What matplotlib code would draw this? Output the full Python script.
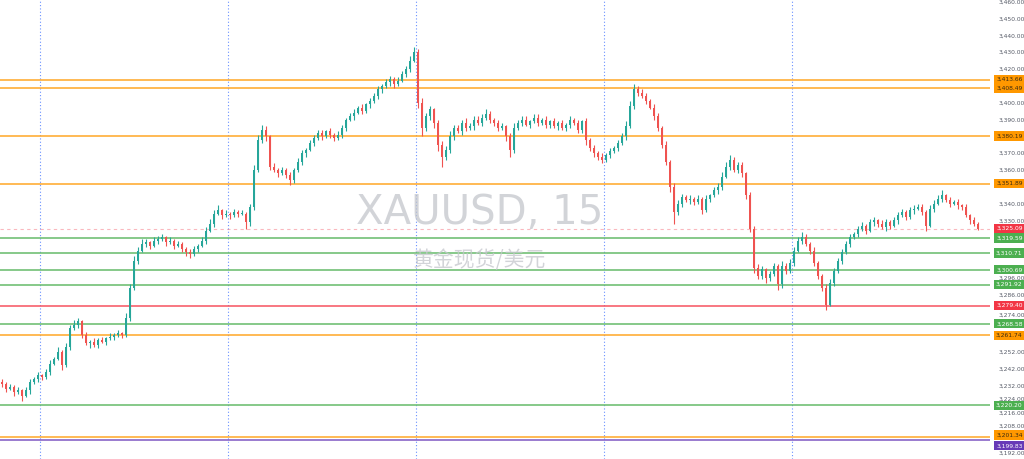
import matplotlib
matplotlib.use("Agg")
from matplotlib import pyplot as plt
from matplotlib.transforms import blended_transform_factory

# 15 minute candles, open = previous close
closes = [
    3233, 3230, 3231, 3228, 3229, 3226, 3229, 3234, 3236, 3238,
    3237, 3240, 3245, 3248, 3252, 3244, 3255, 3266, 3268, 3270,
    3262, 3257, 3258, 3256, 3259, 3258, 3260, 3261, 3262, 3263,
    3262, 3272, 3290, 3306, 3312, 3316, 3317, 3315, 3318, 3319,
    3320, 3317, 3318, 3315, 3316, 3313, 3311, 3310, 3313, 3315,
    3318, 3324, 3328, 3334, 3336, 3333, 3334, 3333, 3335, 3334,
    3334, 3329, 3338, 3360, 3378, 3384, 3380, 3362, 3360, 3358,
    3360, 3357, 3354, 3360, 3365, 3370, 3372, 3376, 3379, 3382,
    3380, 3383, 3381, 3379, 3381, 3385, 3390, 3392, 3394, 3397,
    3395, 3399, 3401, 3404, 3408, 3410, 3412, 3414, 3411, 3413,
    3417, 3420, 3425, 3430, 3400, 3385, 3392, 3396, 3388, 3375,
    3368, 3372, 3380, 3385, 3383, 3388, 3385, 3386, 3390, 3388,
    3391, 3393, 3390, 3388, 3385, 3386, 3380, 3372, 3385, 3388,
    3390, 3387, 3389, 3391, 3388, 3390, 3387, 3389, 3386, 3388,
    3385, 3387, 3390, 3388, 3384, 3389, 3378, 3373, 3370, 3368,
    3366, 3369, 3371, 3373, 3376, 3380, 3386, 3398, 3408, 3406,
    3404, 3401, 3397, 3392, 3385, 3375, 3365, 3350, 3335, 3340,
    3344, 3342, 3343, 3341, 3343, 3336, 3343, 3345, 3348, 3350,
    3356, 3362, 3366, 3360, 3363, 3358, 3345, 3325, 3302, 3297,
    3301, 3296, 3298, 3303, 3292, 3303, 3300, 3305, 3312, 3318,
    3320, 3316, 3312, 3305, 3297, 3290, 3280, 3293, 3300, 3306,
    3311, 3316, 3320, 3322, 3325, 3327, 3324, 3329, 3330, 3328,
    3326, 3329, 3327, 3330, 3333, 3335, 3332, 3336, 3337, 3338,
    3335, 3327, 3337, 3340, 3343, 3345, 3342, 3340, 3341, 3339,
    3338, 3333, 3330, 3328, 3325.09,
]
first_open = 3234

wick_hi = [
    2, 1, 2, 1, 2, 1, 2, 2, 1, 2,
    1, 2, 2, 1, 3, 1, 2, 2, 3, 2,
    1, 2, 1, 2, 1, 2, 1, 2, 1, 2,
    1, 3, 2, 3, 2, 3, 2, 1, 2, 2,
    2, 1, 2, 1, 2, 1, 1, 2, 2, 1,
    2, 2, 3, 2, 3, 1, 2, 1, 2, 1,
    2, 1, 2, 3, 3, 3, 2, 1, 2, 1,
    2, 1, 2, 1, 2, 2, 1, 2, 2, 2,
    2, 1, 2, 1, 2, 2, 1, 2, 2, 1,
    2, 1, 2, 2, 2, 1, 2, 2, 1, 2,
    2, 2, 3, 3, 2, 3, 2, 2, 1, 2,
    2, 2, 3, 2, 2, 2, 3, 2, 2, 2,
    2, 3, 2, 1, 2, 2, 1, 2, 3, 2,
    2, 2, 1, 2, 2, 1, 2, 1, 2, 1,
    2, 1, 2, 1, 2, 1, 2, 1, 2, 1,
    2, 1, 2, 1, 2, 2, 3, 3, 3, 2,
    2, 2, 1, 2, 2, 1, 2, 1, 2, 2,
    2, 1, 2, 1, 2, 1, 2, 1, 2, 2,
    3, 3, 3, 2, 2, 2, 1, 2, 2, 2,
    2, 1, 2, 2, 1, 3, 2, 2, 2, 2,
    3, 2, 1, 2, 1, 1, 2, 2, 2, 2,
    2, 2, 2, 1, 2, 2, 1, 2, 2, 1,
    2, 2, 1, 2, 2, 2, 1, 2, 2, 2,
    2, 1, 2, 2, 2, 3, 1, 2, 1, 2,
    1, 2, 1, 2, 1,
]
wick_lo = [
    2, 2, 1, 2, 1, 3, 1, 2, 1, 2,
    2, 1, 2, 1, 1, 3, 1, 2, 1, 2,
    2, 1, 3, 1, 2, 1, 2, 1, 2, 1,
    2, 1, 2, 1, 2, 1, 2, 2, 1, 2,
    1, 2, 1, 2, 1, 2, 2, 2, 1, 2,
    1, 2, 1, 2, 1, 2, 1, 2, 1, 2,
    1, 4, 2, 2, 1, 2, 3, 2, 1, 2,
    1, 2, 3, 2, 1, 2, 2, 1, 2, 1,
    2, 1, 2, 2, 1, 2, 2, 1, 2, 1,
    2, 1, 2, 1, 2, 2, 1, 2, 2, 1,
    1, 2, 2, 1, 3, 5, 2, 2, 3, 4,
    6, 2, 2, 2, 1, 2, 2, 1, 2, 1,
    2, 1, 2, 2, 2, 1, 3, 4, 2, 1,
    2, 1, 2, 1, 2, 1, 2, 2, 1, 2,
    1, 2, 2, 1, 2, 2, 3, 2, 2, 2,
    2, 1, 2, 1, 2, 1, 2, 1, 2, 2,
    1, 2, 1, 2, 2, 2, 2, 3, 7, 2,
    2, 1, 2, 2, 1, 2, 1, 2, 1, 2,
    2, 1, 2, 1, 2, 2, 2, 2, 3, 2,
    2, 3, 2, 1, 3, 2, 2, 1, 2, 1,
    2, 1, 2, 2, 2, 2, 3, 1, 2, 1,
    2, 1, 2, 1, 2, 1, 2, 1, 2, 2,
    1, 2, 2, 1, 2, 1, 2, 1, 2, 1,
    2, 3, 1, 2, 1, 2, 1, 2, 1, 2,
    2, 1, 2, 1, 1,
]

# horizontal levels: price, kind
levels = [3413.66, 3408.49, 3380.19, 3351.89, 3319.59, 3310.71, 3300.69,
          3291.92, 3279.40, 3268.58, 3261.74, 3220.20, 3201.34, 3199.83]
level_kinds = ["o", "o", "o", "o", "g", "g", "g",
               "g", "r", "g", "o", "g", "o", "p"]
last_price = 3325.09

axis_ticks = [3460, 3450, 3440, 3430, 3420, 3400, 3390, 3370, 3360, 3340,
              3330, 3296, 3286, 3274, 3252, 3242, 3232, 3224, 3216, 3208, 3192]
session_breaks = [9.5, 56.5, 103.5, 150.5, 197.5]

line_col = {"o": "#ffa726", "g": "#66bb6a", "r": "#f7525f", "p": "#7e57c2"}
box_col = {"o": "#ff9800", "g": "#4caf50", "r": "#f23645", "p": "#673ab7"}
txt_col = {"o": "#3a2a10", "g": "white", "r": "white", "p": "white"}
# label nudges (points) where two boxes would sit on top of each other
label_shift = {3201.34: 1.5, 3199.83: -4.5}

up_col = "#26a69a"
dn_col = "#ef5350"

fig = plt.figure(figsize=(10.24, 4.59), dpi=100)
ax = fig.add_axes([0, 0, 990 / 1024, 1])

n = len(closes)
opens = [first_open] + closes[:-1]
xs = list(range(n))
for i in xs:
    o, c = opens[i], closes[i]
    hi = max(o, c) + wick_hi[i]
    lo = min(o, c) - wick_lo[i]
    col = up_col if c >= o else dn_col
    ax.vlines(i, lo, hi, color=col, lw=0.8, zorder=3)
    ax.bar(i, max(abs(c - o), 0.4), bottom=min(o, c), width=0.62,
           color=col, edgecolor="none", zorder=3)

for xb in session_breaks:
    ax.axvline(xb, color="#2962ff", alpha=0.7, lw=0.8, ls=(0, (1, 2)), zorder=1)

tr = blended_transform_factory(ax.transAxes, ax.transData)


def price_label(p, fc, tc):
    ax.annotate(f"{p:,.2f}", xy=(1.0195, p), xycoords=tr,
                xytext=(0, label_shift.get(p, 0)), textcoords="offset points",
                ha="center", va="center", fontsize=4.3, color=tc,
                annotation_clip=False, zorder=6,
                bbox=dict(boxstyle="square,pad=0.35", fc=fc, ec="none"))


for p, k in zip(levels, level_kinds):
    ax.axhline(p, color=line_col[k], lw=1.1, zorder=2)
    price_label(p, box_col[k], txt_col[k])

ax.axhline(last_price, color="#f23645", alpha=0.35, lw=0.8, ls=(0, (3, 3)), zorder=2)
price_label(last_price, "#f23645", "white")

ax.set_xlim(-0.5, 247)
ax.set_ylim(3188.3, 3461.0)
ax.set_xticks([])
ax.yaxis.tick_right()
ax.set_yticks(axis_ticks)
ax.set_yticklabels([f"{t:,.2f}" for t in axis_ticks])
ax.tick_params(axis="y", length=0, pad=6, labelsize=4.3, labelcolor="#555a66")
for s in ax.spines.values():
    s.set_visible(False)

fig.text(480 / 1024, 1 - 213 / 459, "XAUUSD, 15", ha="center", va="center",
         fontsize=29, color="#c4c6cc", alpha=0.75, family="DejaVu Sans")
fig.text(480 / 1024, 1 - 260 / 459, "黄金现货/美元", ha="center", va="center",
         fontsize=15, color="#c4c6cc", alpha=0.75,
         family=["Noto Sans CJK SC", "DejaVu Sans"])

fig.savefig("out.png", dpi=100)
